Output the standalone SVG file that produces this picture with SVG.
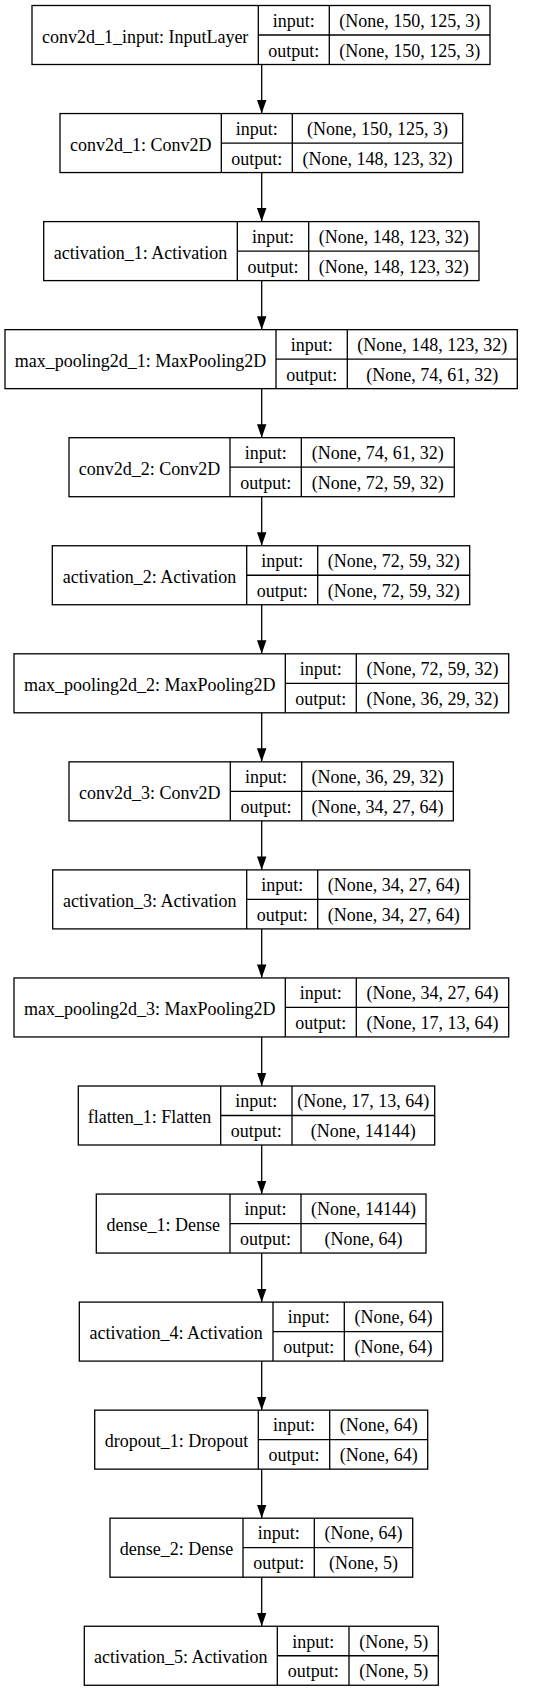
<svg xmlns="http://www.w3.org/2000/svg" width="544" height="1691" viewBox="0 0 544 1691">
<style>
rect.b{fill:#fff;stroke:#000;stroke-width:1.3}
line.d{stroke:#000;stroke-width:1.3}
text{font-family:"Liberation Serif","Times New Roman",serif;font-size:18px;fill:#000;text-anchor:middle}
.e{stroke:#000;stroke-width:1.3;fill:none}
</style>
<defs>
<marker id="ah" viewBox="0 0 10 7" refX="10" refY="3.5" markerWidth="13.5" markerHeight="9.6" markerUnits="userSpaceOnUse" orient="auto">
<polygon points="0,0 10,3.5 0,7" fill="#000" stroke="none"/>
</marker>
</defs>
<rect width="544" height="1691" fill="#fff"/>
<g id="connectors">
<line class="e" x1="261.7" y1="64.5" x2="261.7" y2="113.55" marker-end="url(#ah)"/>
<line class="e" x1="261.7" y1="172.55" x2="261.7" y2="221.6" marker-end="url(#ah)"/>
<line class="e" x1="261.7" y1="280.6" x2="261.7" y2="329.65" marker-end="url(#ah)"/>
<line class="e" x1="261.7" y1="388.65" x2="261.7" y2="437.7" marker-end="url(#ah)"/>
<line class="e" x1="261.7" y1="496.7" x2="261.7" y2="545.75" marker-end="url(#ah)"/>
<line class="e" x1="261.7" y1="604.75" x2="261.7" y2="653.8" marker-end="url(#ah)"/>
<line class="e" x1="261.7" y1="712.8" x2="261.7" y2="761.85" marker-end="url(#ah)"/>
<line class="e" x1="261.7" y1="820.85" x2="261.7" y2="869.9" marker-end="url(#ah)"/>
<line class="e" x1="261.7" y1="928.9" x2="261.7" y2="977.95" marker-end="url(#ah)"/>
<line class="e" x1="261.7" y1="1036.95" x2="261.7" y2="1086" marker-end="url(#ah)"/>
<line class="e" x1="261.7" y1="1145" x2="261.7" y2="1194.05" marker-end="url(#ah)"/>
<line class="e" x1="261.7" y1="1253.05" x2="261.7" y2="1302.1" marker-end="url(#ah)"/>
<line class="e" x1="261.7" y1="1361.1" x2="261.7" y2="1410.15" marker-end="url(#ah)"/>
<line class="e" x1="261.7" y1="1469.15" x2="261.7" y2="1518.2" marker-end="url(#ah)"/>
<line class="e" x1="261.7" y1="1577.2" x2="261.7" y2="1626.25" marker-end="url(#ah)"/>
</g>
<g id="conv2d_1_input" transform="translate(0,5.5)">
<rect class="b" x="32" y="0" width="458" height="59"/>
<line class="d" x1="258.3" y1="0" x2="258.3" y2="59"/><line class="d" x1="329.3" y1="0" x2="329.3" y2="59"/><line class="d" x1="258.3" y1="29.5" x2="490" y2="29.5"/>
<text x="145.15" y="37">conv2d_1_input: InputLayer</text>
<text x="293.8" y="21.3">input:</text><text x="293.8" y="51">output:</text>
<text x="409.65" y="21.3">(None, 150, 125, 3)</text><text x="409.65" y="51">(None, 150, 125, 3)</text>
</g>
<g id="conv2d_1" transform="translate(0,113.55)">
<rect class="b" x="60" y="0" width="402.7" height="59"/>
<line class="d" x1="221.3" y1="0" x2="221.3" y2="59"/><line class="d" x1="292.3" y1="0" x2="292.3" y2="59"/><line class="d" x1="221.3" y1="29.5" x2="462.7" y2="29.5"/>
<text x="140.65" y="37">conv2d_1: Conv2D</text>
<text x="256.8" y="21.3">input:</text><text x="256.8" y="51">output:</text>
<text x="377.5" y="21.3">(None, 150, 125, 3)</text><text x="377.5" y="51">(None, 148, 123, 32)</text>
</g>
<g id="activation_1" transform="translate(0,221.6)">
<rect class="b" x="43.7" y="0" width="435.3" height="59"/>
<line class="d" x1="237.3" y1="0" x2="237.3" y2="59"/><line class="d" x1="308.7" y1="0" x2="308.7" y2="59"/><line class="d" x1="237.3" y1="29.5" x2="479" y2="29.5"/>
<text x="140.5" y="37">activation_1: Activation</text>
<text x="273" y="21.3">input:</text><text x="273" y="51">output:</text>
<text x="393.85" y="21.3">(None, 148, 123, 32)</text><text x="393.85" y="51">(None, 148, 123, 32)</text>
</g>
<g id="max_pooling2d_1" transform="translate(0,329.65)">
<rect class="b" x="5" y="0" width="512.3" height="59"/>
<line class="d" x1="276" y1="0" x2="276" y2="59"/><line class="d" x1="347.3" y1="0" x2="347.3" y2="59"/><line class="d" x1="276" y1="29.5" x2="517.3" y2="29.5"/>
<text x="140.5" y="37">max_pooling2d_1: MaxPooling2D</text>
<text x="311.65" y="21.3">input:</text><text x="311.65" y="51">output:</text>
<text x="432.3" y="21.3">(None, 148, 123, 32)</text><text x="432.3" y="51">(None, 74, 61, 32)</text>
</g>
<g id="conv2d_2" transform="translate(0,437.7)">
<rect class="b" x="69" y="0" width="385.3" height="59"/>
<line class="d" x1="230" y1="0" x2="230" y2="59"/><line class="d" x1="301.3" y1="0" x2="301.3" y2="59"/><line class="d" x1="230" y1="29.5" x2="454.3" y2="29.5"/>
<text x="149.5" y="37">conv2d_2: Conv2D</text>
<text x="265.65" y="21.3">input:</text><text x="265.65" y="51">output:</text>
<text x="377.8" y="21.3">(None, 74, 61, 32)</text><text x="377.8" y="51">(None, 72, 59, 32)</text>
</g>
<g id="activation_2" transform="translate(0,545.75)">
<rect class="b" x="52.3" y="0" width="417.4" height="59"/>
<line class="d" x1="246.7" y1="0" x2="246.7" y2="59"/><line class="d" x1="317.7" y1="0" x2="317.7" y2="59"/><line class="d" x1="246.7" y1="29.5" x2="469.7" y2="29.5"/>
<text x="149.5" y="37">activation_2: Activation</text>
<text x="282.2" y="21.3">input:</text><text x="282.2" y="51">output:</text>
<text x="393.7" y="21.3">(None, 72, 59, 32)</text><text x="393.7" y="51">(None, 72, 59, 32)</text>
</g>
<g id="max_pooling2d_2" transform="translate(0,653.8)">
<rect class="b" x="14" y="0" width="494.7" height="59"/>
<line class="d" x1="285.3" y1="0" x2="285.3" y2="59"/><line class="d" x1="356.3" y1="0" x2="356.3" y2="59"/><line class="d" x1="285.3" y1="29.5" x2="508.7" y2="29.5"/>
<text x="149.65" y="37">max_pooling2d_2: MaxPooling2D</text>
<text x="320.8" y="21.3">input:</text><text x="320.8" y="51">output:</text>
<text x="432.5" y="21.3">(None, 72, 59, 32)</text><text x="432.5" y="51">(None, 36, 29, 32)</text>
</g>
<g id="conv2d_3" transform="translate(0,761.85)">
<rect class="b" x="69" y="0" width="384.3" height="59"/>
<line class="d" x1="230.3" y1="0" x2="230.3" y2="59"/><line class="d" x1="301.7" y1="0" x2="301.7" y2="59"/><line class="d" x1="230.3" y1="29.5" x2="453.3" y2="29.5"/>
<text x="149.65" y="37">conv2d_3: Conv2D</text>
<text x="266" y="21.3">input:</text><text x="266" y="51">output:</text>
<text x="377.5" y="21.3">(None, 36, 29, 32)</text><text x="377.5" y="51">(None, 34, 27, 64)</text>
</g>
<g id="activation_3" transform="translate(0,869.9)">
<rect class="b" x="52.7" y="0" width="417" height="59"/>
<line class="d" x1="246.7" y1="0" x2="246.7" y2="59"/><line class="d" x1="317.7" y1="0" x2="317.7" y2="59"/><line class="d" x1="246.7" y1="29.5" x2="469.7" y2="29.5"/>
<text x="149.7" y="37">activation_3: Activation</text>
<text x="282.2" y="21.3">input:</text><text x="282.2" y="51">output:</text>
<text x="393.7" y="21.3">(None, 34, 27, 64)</text><text x="393.7" y="51">(None, 34, 27, 64)</text>
</g>
<g id="max_pooling2d_3" transform="translate(0,977.95)">
<rect class="b" x="14" y="0" width="494.7" height="59"/>
<line class="d" x1="285.3" y1="0" x2="285.3" y2="59"/><line class="d" x1="356.3" y1="0" x2="356.3" y2="59"/><line class="d" x1="285.3" y1="29.5" x2="508.7" y2="29.5"/>
<text x="149.65" y="37">max_pooling2d_3: MaxPooling2D</text>
<text x="320.8" y="21.3">input:</text><text x="320.8" y="51">output:</text>
<text x="432.5" y="21.3">(None, 34, 27, 64)</text><text x="432.5" y="51">(None, 17, 13, 64)</text>
</g>
<g id="flatten_1" transform="translate(0,1086)">
<rect class="b" x="78.3" y="0" width="356.4" height="59"/>
<line class="d" x1="220.7" y1="0" x2="220.7" y2="59"/><line class="d" x1="292" y1="0" x2="292" y2="59"/><line class="d" x1="220.7" y1="29.5" x2="434.7" y2="29.5"/>
<text x="149.5" y="37">flatten_1: Flatten</text>
<text x="256.35" y="21.3">input:</text><text x="256.35" y="51">output:</text>
<text x="363.35" y="21.3">(None, 17, 13, 64)</text><text x="363.35" y="51">(None, 14144)</text>
</g>
<g id="dense_1" transform="translate(0,1194.05)">
<rect class="b" x="96.3" y="0" width="329.7" height="59"/>
<line class="d" x1="230" y1="0" x2="230" y2="59"/><line class="d" x1="301" y1="0" x2="301" y2="59"/><line class="d" x1="230" y1="29.5" x2="426" y2="29.5"/>
<text x="163.15" y="37">dense_1: Dense</text>
<text x="265.5" y="21.3">input:</text><text x="265.5" y="51">output:</text>
<text x="363.5" y="21.3">(None, 14144)</text><text x="363.5" y="51">(None, 64)</text>
</g>
<g id="activation_4" transform="translate(0,1302.1)">
<rect class="b" x="79.3" y="0" width="363.4" height="59"/>
<line class="d" x1="273" y1="0" x2="273" y2="59"/><line class="d" x1="344.3" y1="0" x2="344.3" y2="59"/><line class="d" x1="273" y1="29.5" x2="442.7" y2="29.5"/>
<text x="176.15" y="37">activation_4: Activation</text>
<text x="308.65" y="21.3">input:</text><text x="308.65" y="51">output:</text>
<text x="393.5" y="21.3">(None, 64)</text><text x="393.5" y="51">(None, 64)</text>
</g>
<g id="dropout_1" transform="translate(0,1410.15)">
<rect class="b" x="94.7" y="0" width="333" height="59"/>
<line class="d" x1="258.3" y1="0" x2="258.3" y2="59"/><line class="d" x1="329.7" y1="0" x2="329.7" y2="59"/><line class="d" x1="258.3" y1="29.5" x2="427.7" y2="29.5"/>
<text x="176.5" y="37">dropout_1: Dropout</text>
<text x="294" y="21.3">input:</text><text x="294" y="51">output:</text>
<text x="378.7" y="21.3">(None, 64)</text><text x="378.7" y="51">(None, 64)</text>
</g>
<g id="dense_2" transform="translate(0,1518.2)">
<rect class="b" x="110" y="0" width="302.7" height="59"/>
<line class="d" x1="243" y1="0" x2="243" y2="59"/><line class="d" x1="314.3" y1="0" x2="314.3" y2="59"/><line class="d" x1="243" y1="29.5" x2="412.7" y2="29.5"/>
<text x="176.5" y="37">dense_2: Dense</text>
<text x="278.65" y="21.3">input:</text><text x="278.65" y="51">output:</text>
<text x="363.5" y="21.3">(None, 64)</text><text x="363.5" y="51">(None, 5)</text>
</g>
<g id="activation_5" transform="translate(0,1626.25)">
<rect class="b" x="84.3" y="0" width="354" height="59"/>
<line class="d" x1="277.3" y1="0" x2="277.3" y2="59"/><line class="d" x1="349" y1="0" x2="349" y2="59"/><line class="d" x1="277.3" y1="29.5" x2="438.3" y2="29.5"/>
<text x="180.8" y="37">activation_5: Activation</text>
<text x="313.15" y="21.3">input:</text><text x="313.15" y="51">output:</text>
<text x="393.65" y="21.3">(None, 5)</text><text x="393.65" y="51">(None, 5)</text>
</g>
</svg>
